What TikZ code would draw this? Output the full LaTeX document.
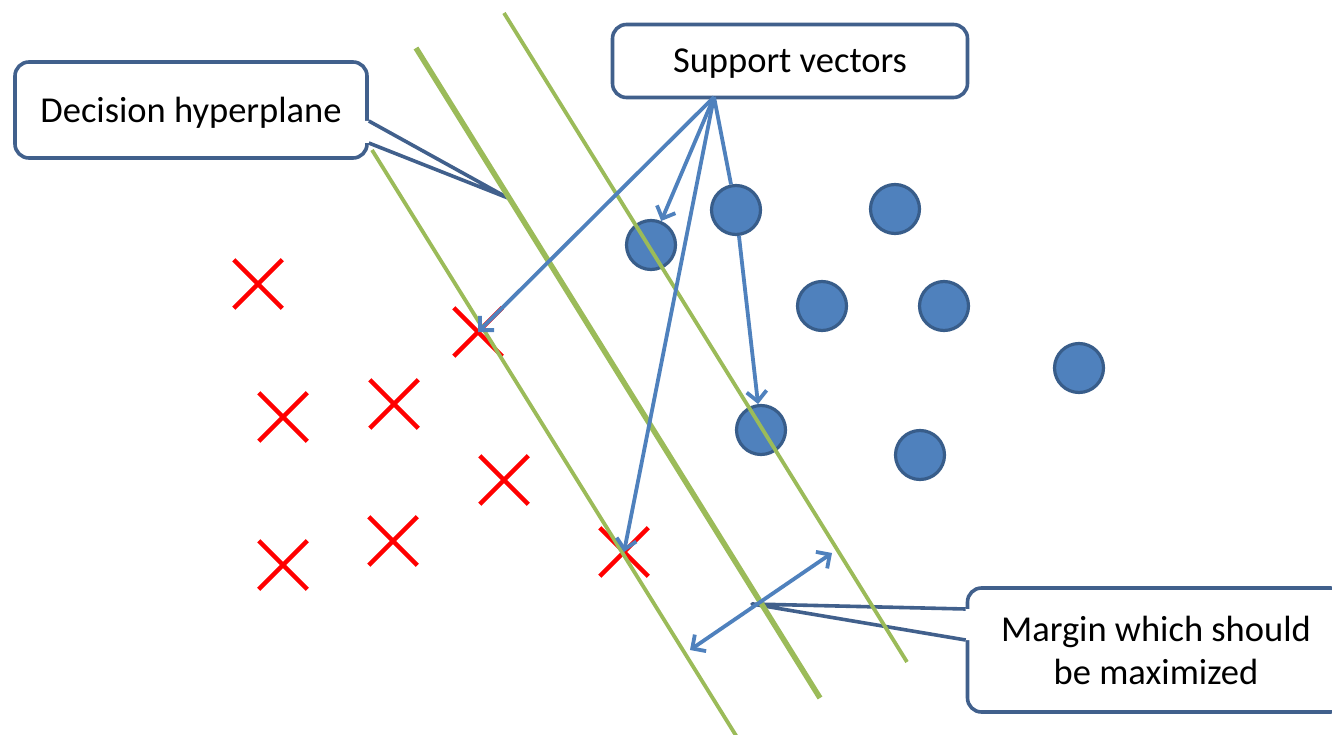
\documentclass[tikz,border=0pt]{standalone}
\usepackage{fontspec}
\setmainfont{Carlito}
\usetikzlibrary{positioning}
\usetikzlibrary{arrows.meta}
\usetikzlibrary{shapes.misc}
\usepackage{xcolor}

\definecolor{hypgreen}{HTML}{9BBB59}
\definecolor{dotblue}{HTML}{4F81BD}
\definecolor{dotedge}{HTML}{385D8A}
\definecolor{boxedge}{HTML}{41608C}

\begin{document}
\begin{tikzpicture}[x=1pt,y=-1pt,
	label box/.style={draw=boxedge,line width=3.6pt,fill=white,rounded corners=14pt,
		font=\fontsize{36.5}{43}\selectfont,align=center,inner sep=0pt},
	wedge/.style={draw=boxedge,line width=3.6pt,line join=round},
	pos dot/.style={circle,fill=dotblue,draw=dotedge,line width=3.2pt,minimum size=49pt,inner sep=0pt},
	neg mark/.style={cross out,draw=red,line width=4.5pt,minimum size=44pt,inner sep=0pt},
	margin line/.style={hypgreen,line width=3.8pt},
	pointer/.style={dotblue,line width=3.8pt,-{Straight Barb[length=10pt,width=20pt]}},
	both pointer/.style={dotblue,line width=3.8pt,{Straight Barb[length=10pt,width=20pt]}-{Straight Barb[length=10pt,width=20pt]}}]
	\useasboundingbox (0,0) rectangle (1332,735);

	\node [label box,text depth=0pt,minimum width=352pt,minimum height=96pt] (hyp) at (191,110) {Decision hyperplane};
	\node [label box,text depth=0pt,minimum width=355pt,minimum height=73pt] (sv) at (790,61) {Support vectors};
	\node [label box,minimum width=377pt,minimum height=124pt] (margin) at (1156,650) {Margin which should\\be maximized};

	\coordinate (hyptip) at (508,198);
	\fill [white] ([xshift=-5pt,yshift=-11pt]hyp.east) -- ([yshift=-11pt]hyp.east) -- (hyptip)
		-- ([yshift=-33pt]hyp.east) -- ([xshift=-5pt,yshift=-33pt]hyp.east) -- cycle;
	\draw [wedge] ([yshift=-11pt]hyp.east) -- (hyptip) -- ([yshift=-33pt]hyp.east);

	\coordinate (margintip) at (752,604);
	\fill [white] ([xshift=5pt,yshift=41pt]margin.west) -- ([yshift=41pt]margin.west) -- (margintip)
		-- ([yshift=10pt]margin.west) -- ([xshift=5pt,yshift=10pt]margin.west) -- cycle;
	\draw [wedge] ([yshift=41pt]margin.west) -- (margintip) -- ([yshift=10pt]margin.west);

	\foreach \n/\p in {1/{651,245},2/{736,210},3/{895,209},4/{822,306},5/{944,306},6/{1079,368},7/{761,430},8/{920,455}}
		\node [pos dot] (c\n) at (\p) {};
	\foreach \n/\p in {1/{258,284},2/{478,332},3/{283,417},4/{394,404},5/{504,480},6/{283,565},7/{393,541},8/{624,552}}
		\node [neg mark] (x\n) at (\p) {};

	\coordinate (lefttop) at (372,150);
	\coordinate (leftbot) at (740,742);
	\coordinate (midtop) at (416,48);
	\coordinate (midbot) at (820,698);
	\coordinate (righttop) at (504,13);
	\coordinate (rightbot) at (907,662);
	\draw [margin line] (lefttop) -- (leftbot);
	\draw [margin line,line width=5.5pt] (midtop) -- (midbot);
	\draw [margin line] (righttop) -- (rightbot);

	\coordinate (svfoot) at (714,97);
	\draw [pointer] (svfoot) -- (x2.center);
	\draw [pointer] (svfoot) -- (c1);
	\draw [pointer] (svfoot) -- (x8.center);
	\draw [dotblue,line width=3.8pt] (svfoot) -- (c2);
	\draw [pointer] (c2) -- (c7);

	\coordinate (mlow) at (690,650);
	\coordinate (mhigh) at (832,553);
	\draw [both pointer] (mlow) -- (mhigh);
\end{tikzpicture}
\end{document}
